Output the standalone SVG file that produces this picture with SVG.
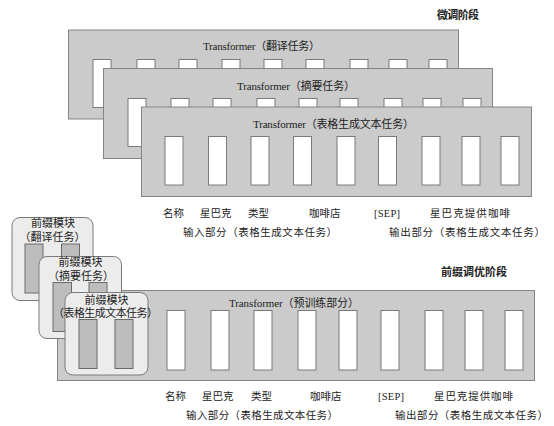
<svg xmlns="http://www.w3.org/2000/svg" width="554" height="426" viewBox="0 0 554 426">
<style>
.panel{fill:#cbcbcb;stroke:#858585;stroke-width:1}
.slot{fill:#ffffff;stroke:#7a7a7a;stroke-width:1}
.mod{fill:#ececec;stroke:#7a7a7a;stroke-width:1}
.bar{fill:#bdbdbd;stroke:#6a6a6a;stroke-width:1}
text{font-family:"Liberation Serif","Noto Sans CJK SC",serif;fill:#222222}
.title{font-size:11px}
.lbl{font-size:10.5px}
.lbl2{font-size:10.5px}
.hdr{font-size:11px;font-weight:bold;font-family:"Noto Sans CJK SC",sans-serif}
.mt{font-size:11px;text-anchor:middle}
</style>
<rect width="554" height="426" fill="#ffffff"/>
<g id="connectors"/>
<text class="hdr" x="437" y="19" textLength="42">微调阶段</text>
<g id="ft-translate">
<rect class="panel" x="68.5" y="30" width="390" height="89"/>
<rect class="slot" x="93" y="59.5" width="18" height="48"/>
<rect class="slot" x="137" y="59.5" width="18" height="48"/>
<rect class="slot" x="179" y="59.5" width="18" height="48"/>
<rect class="slot" x="222" y="59.5" width="18" height="48"/>
<rect class="slot" x="264" y="59.5" width="18" height="48"/>
<rect class="slot" x="306" y="59.5" width="18" height="48"/>
<rect class="slot" x="350" y="59.5" width="18" height="48"/>
<rect class="slot" x="389" y="59.5" width="18" height="48"/>
<rect class="slot" x="429" y="59.5" width="18" height="48"/>
<text class="title" x="203" y="49.5" textLength="117">Transformer（翻译任务）</text>
</g>
<g id="ft-summary">
<rect class="panel" x="103.5" y="68.5" width="389" height="90"/>
<rect class="slot" x="128" y="98.5" width="18" height="48"/>
<rect class="slot" x="171" y="98.5" width="18" height="48"/>
<rect class="slot" x="213" y="98.5" width="18" height="48"/>
<rect class="slot" x="257" y="98.5" width="18" height="48"/>
<rect class="slot" x="299" y="98.5" width="18" height="48"/>
<rect class="slot" x="340" y="98.5" width="18" height="48"/>
<rect class="slot" x="384" y="98.5" width="18" height="48"/>
<rect class="slot" x="423" y="98.5" width="18" height="48"/>
<rect class="slot" x="463" y="98.5" width="18" height="48"/>
<text class="title" x="237" y="89.5" textLength="118">Transformer（摘要任务）</text>
</g>
<g id="ft-table">
<rect class="panel" x="141.5" y="107" width="390" height="89.5"/>
<rect class="slot" x="165" y="136.5" width="18" height="48.5"/>
<rect class="slot" x="208.5" y="136.5" width="18" height="48.5"/>
<rect class="slot" x="251" y="136.5" width="18" height="48.5"/>
<rect class="slot" x="293.5" y="136.5" width="18" height="48.5"/>
<rect class="slot" x="337" y="136.5" width="18" height="48.5"/>
<rect class="slot" x="378.5" y="136.5" width="18" height="48.5"/>
<rect class="slot" x="422" y="136.5" width="18" height="48.5"/>
<rect class="slot" x="462" y="136.5" width="18" height="48.5"/>
<rect class="slot" x="501" y="136.5" width="18" height="48.5"/>
<text class="title" x="253" y="128" textLength="161">Transformer（表格生成文本任务）</text>
</g>
<g id="ft-labels">
<text class="lbl" x="163" y="217">名称</text>
<text class="lbl" x="200" y="217">星巴克</text>
<text class="lbl" x="248" y="217">类型</text>
<text class="lbl" x="309" y="217">咖啡店</text>
<text class="lbl" x="374" y="217" textLength="26">[SEP]</text>
<text class="lbl" x="430" y="217" textLength="80">星巴克提供咖啡</text>
<text class="lbl2" x="183" y="236" textLength="154">输入部分（表格生成文本任务）</text>
<text class="lbl2" x="389" y="236" textLength="156">输出部分（表格生成文本任务）</text>
</g>
<text class="hdr" x="441" y="276" textLength="66">前缀调优阶段</text>
<g id="pt-transformer">
<rect class="panel" x="57.5" y="290.5" width="477" height="90"/>
<rect class="slot" x="167" y="310.5" width="18" height="59.5"/>
<rect class="slot" x="211" y="310.5" width="18" height="59.5"/>
<rect class="slot" x="254" y="310.5" width="18" height="59.5"/>
<rect class="slot" x="298" y="310.5" width="18" height="59.5"/>
<rect class="slot" x="339" y="310.5" width="18" height="59.5"/>
<rect class="slot" x="381" y="310.5" width="18" height="59.5"/>
<rect class="slot" x="425" y="310.5" width="18" height="59.5"/>
<rect class="slot" x="465" y="310.5" width="18" height="59.5"/>
<rect class="slot" x="505" y="310.5" width="18" height="59.5"/>
<text class="title" x="229" y="307" textLength="130">Transformer（预训练部分）</text>
</g>
<g id="prefix-translate">
<rect class="mod" x="12" y="217.5" width="81" height="83" rx="8"/>
<rect class="bar" x="25" y="244" width="18" height="49"/>
<rect class="bar" x="61.5" y="244" width="18" height="49"/>
<text class="mt" x="53" y="227">前缀模块</text>
<text class="mt" x="52.5" y="241">（翻译任务）</text>
</g>
<g id="prefix-summary">
<rect class="mod" x="39" y="256.5" width="82.5" height="82" rx="8"/>
<rect class="bar" x="53" y="282.5" width="18.5" height="49"/>
<rect class="bar" x="89" y="282.5" width="18" height="49"/>
<text class="mt" x="80.5" y="266">前缀模块</text>
<text class="mt" x="81" y="279.5">（摘要任务）</text>
</g>
<g id="prefix-table">
<rect class="mod" x="65" y="292.5" width="83" height="82.5" rx="8"/>
<rect class="bar" x="79" y="319.5" width="18" height="49"/>
<rect class="bar" x="115" y="319.5" width="18" height="49"/>
<text class="mt" x="106.5" y="304">前缀模块</text>
<text class="mt" x="105.5" y="317" textLength="105">（表格生成文本任务）</text>
</g>
<g id="pt-labels">
<text class="lbl" x="165" y="400">名称</text>
<text class="lbl" x="202" y="400">星巴克</text>
<text class="lbl" x="251" y="400">类型</text>
<text class="lbl" x="310" y="400">咖啡店</text>
<text class="lbl" x="378" y="400" textLength="26">[SEP]</text>
<text class="lbl" x="434" y="400" textLength="79">星巴克提供咖啡</text>
<text class="lbl2" x="186" y="418.5" textLength="152">输入部分（表格生成文本任务）</text>
<text class="lbl2" x="395" y="418.5" textLength="153">输出部分（表格生成文本任务）</text>
</g>
</svg>
